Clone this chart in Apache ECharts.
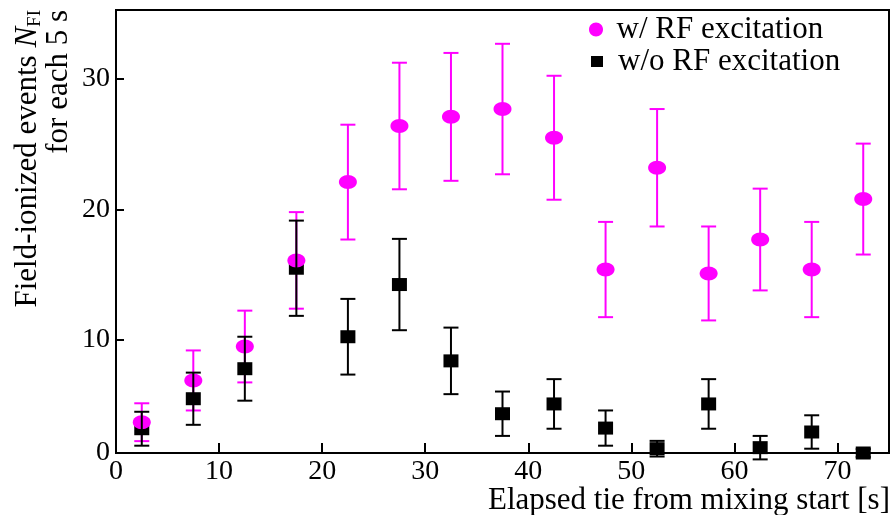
<!DOCTYPE html>
<html>
<head>
<meta charset="utf-8">
<script src="https://cdn.jsdelivr.net/npm/echarts@6/dist/echarts.min.js"></script>
<style>
html,body{margin:0;padding:0;background:#fff;}
#chart{width:892px;height:515px;}
</style>
</head>
<body>
<div id="chart"></div>
<script>
// ---- data ----
const elapsed = [2.5, 7.5, 12.5, 17.5, 22.5, 27.5, 32.5, 37.5, 42.5, 47.5, 52.5, 57.5, 62.5, 67.5, 72.5];
const withRF = [3.7, 6.9, 9.5, 16.1, 22.1, 26.4, 27.1, 27.7, 25.5, 15.4, 23.2, 15.1, 17.7, 15.4, 20.8];
const withRFErr = [1.45, 2.3, 2.75, 3.7, 4.4, 4.85, 4.9, 5.0, 4.75, 3.65, 4.5, 3.6, 3.9, 3.65, 4.25];
const withoutRF = [3.2, 5.5, 7.8, 15.5, 10.25, 14.25, 8.4, 4.35, 5.1, 3.25, 1.67, 5.1, 1.75, 2.95, 1.34];
const withoutRFErr = [1.3, 2.0, 2.45, 3.65, 2.9, 3.5, 2.55, 1.7, 1.9, 1.35, 0.6, 1.9, 0.9, 1.28, 0.3];

const xTickValues = [10, 20, 30, 40, 50, 60, 70];
const xLabelValues = [0, 10, 20, 30, 40, 50, 60, 70];
const yMin = 1.34, yMax = 35.29;
const yTickValues = [10, 20, 30];
const yLabelValues = [yMin, 10, 20, 30];
const yLabelTexts = ['0', '10', '20', '30'];

const nameWith = 'w/ RF excitation';
const nameWithout = 'w/o RF excitation';
const xTitle = 'Elapsed tie from mixing start [s]';

// ---- build ----
const FONT = 'Liberation Serif';
const MAGENTA = '#ff00ff';
const ELLIPSE = 'path://M50,0 C77.6,0 100,22.4 100,50 C100,77.6 77.6,100 50,100 C22.4,100 0,77.6 0,50 C0,22.4 22.4,0 50,0 Z';

const ptsWith = elapsed.map((x, i) => [x, withRF[i]]);
const ptsWithout = elapsed.map((x, i) => [x, withoutRF[i]]);
const errWith = elapsed.map((x, i) => [x, withRF[i] - withRFErr[i], withRF[i] + withRFErr[i]]);
const errWithout = elapsed.map((x, i) => [x, withoutRF[i] - withoutRFErr[i], withoutRF[i] + withoutRFErr[i]]);

function errRender(color) {
  return function (params, api) {
    const x = api.value(0), lo = api.value(1), hi = api.value(2);
    const a = api.coord([x, lo]), b = api.coord([x, hi]);
    const hw = 7.5;
    const style = { stroke: color, lineWidth: 2, fill: null };
    return {
      type: 'group',
      children: [
        { type: 'line', shape: { x1: a[0], y1: a[1], x2: b[0], y2: b[1] }, style: style },
        { type: 'line', shape: { x1: a[0] - hw, y1: a[1], x2: a[0] + hw, y2: a[1] }, style: style },
        { type: 'line', shape: { x1: b[0] - hw, y1: b[1], x2: b[0] + hw, y2: b[1] }, style: style }
      ]
    };
  };
}

const option = {
  animation: false,
  backgroundColor: '#fff',
  textStyle: { fontFamily: FONT, color: '#000' },
  grid: {
    left: 116, top: 10, right: 3, bottom: 62, containLabel: false, outerBoundsMode: 'none',
    show: true, borderColor: '#000', borderWidth: 2, backgroundColor: 'transparent'
  },
  legend: [
    {
      data: [{ name: nameWith, icon: ELLIPSE }],
      left: 589, top: 14, padding: 0, orient: 'vertical',
      itemWidth: 17, itemHeight: 14, selectedMode: false,
      textStyle: { fontFamily: FONT, fontSize: 31, color: '#000', padding: [0, 0, 0, 7] }
    },
    {
      data: [{ name: nameWithout, icon: 'rect' }],
      left: 591, top: 46, padding: 0, orient: 'vertical',
      itemWidth: 12, itemHeight: 11, selectedMode: false,
      textStyle: { fontFamily: FONT, fontSize: 31, color: '#000', padding: [0, 0, 0, 10] }
    }
  ],
  xAxis: {
    type: 'value', min: 0, max: 75,
    axisLine: { show: false },
    axisTick: { show: true, inside: true, length: 10, customValues: xTickValues, lineStyle: { color: '#000', width: 2 } },
    axisLabel: { customValues: xLabelValues, margin: 5, fontFamily: FONT, fontSize: 28, color: '#000' },
    splitLine: { show: false }
  },
  yAxis: {
    type: 'value', min: yMin, max: yMax,
    axisLine: { show: false },
    axisTick: { show: true, inside: true, length: 8, customValues: yTickValues, lineStyle: { color: '#000', width: 2 } },
    axisLabel: {
      customValues: yLabelValues, margin: 6, fontFamily: FONT, fontSize: 28, color: '#000',
      formatter: function (v) { const i = yLabelValues.indexOf(v); return i >= 0 ? yLabelTexts[i] : String(v); }
    },
    splitLine: { show: false }
  },
  graphic: [
    {
      type: 'text', x: 28, y: 10, rotation: Math.PI / 2, z: 10,
      style: {
        text: '{t|Field-ionized events }{i|N}{s|FI}',
        align: 'right', verticalAlign: 'middle',
        rich: {
          t: { fontFamily: FONT, fontSize: 31, lineHeight: 34, fill: '#000', verticalAlign: 'middle' },
          i: { fontFamily: FONT, fontSize: 31, fontStyle: 'italic', lineHeight: 34, fill: '#000', verticalAlign: 'middle' },
          s: { fontFamily: FONT, fontSize: 19, lineHeight: 19, fill: '#000', verticalAlign: 'bottom' }
        }
      }
    },
    {
      type: 'text', x: 59, y: 10, rotation: Math.PI / 2, z: 10,
      style: { text: 'for each 5 s', align: 'right', verticalAlign: 'middle', fontFamily: FONT, fontSize: 31, fill: '#000' }
    },
    {
      type: 'text', x: 890, y: 501, z: 10,
      style: { text: xTitle, align: 'right', verticalAlign: 'middle', fontFamily: FONT, fontSize: 31, fill: '#000' }
    }
  ],
  series: [
    {
      type: 'custom', name: 'errWith', data: errWith, renderItem: errRender(MAGENTA),
      encode: { x: 0, y: [1, 2] }, clip: false, z: 2
    },
    {
      type: 'scatter', name: nameWithout, data: ptsWithout, symbol: 'rect', symbolSize: [15, 13],
      itemStyle: { color: '#000', opacity: 1 }, clip: false, z: 3
    },
    {
      type: 'scatter', name: nameWith, data: ptsWith, symbol: ELLIPSE, symbolSize: [18, 14],
      itemStyle: { color: MAGENTA, opacity: 1 }, clip: false, z: 4
    },
    {
      type: 'custom', name: 'errWithout', data: errWithout, renderItem: errRender('#000'),
      encode: { x: 0, y: [1, 2] }, clip: false, z: 5
    }
  ]
};

const chart = echarts.init(document.getElementById('chart'), null, { renderer: 'canvas' });
chart.setOption(option);
</script>
</body>
</html>
